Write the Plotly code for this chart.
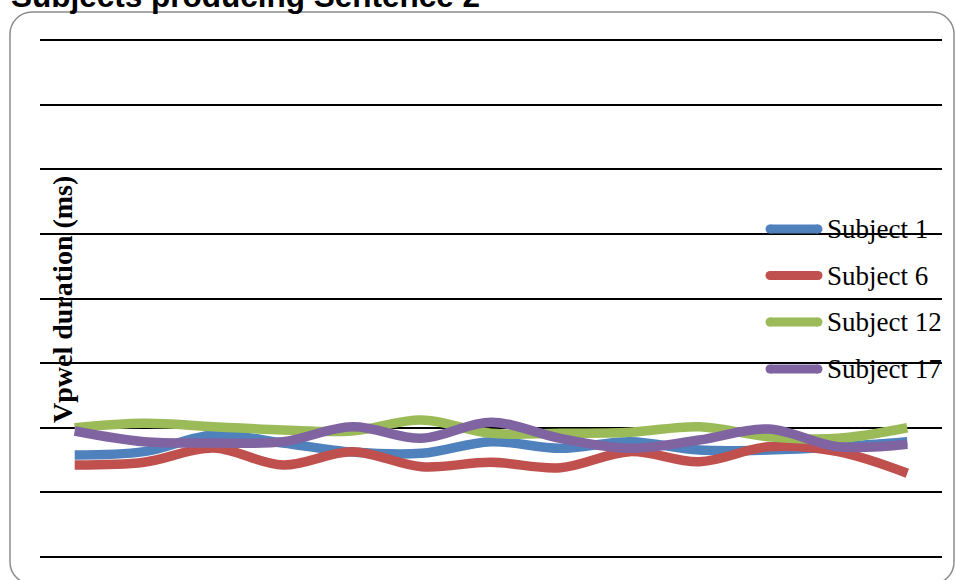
import plotly.graph_objects as go

# ---- data ----
categories = list(range(1, 14))
series_names = ["Subject 1", "Subject 6", "Subject 12", "Subject 17"]
subject_1 = [78.9, 81.5, 94.4, 88.2, 81.2, 80.2, 89.2, 84.1, 89.2, 82.8, 82.8, 85.3, 89.2]
subject_6 = [71.2, 73.3, 84.3, 71.2, 81.5, 69.9, 73.3, 69.1, 81.5, 73.7, 85.3, 81.5, 64.8]
subject_12 = [100.0, 103.4, 100.8, 98.3, 97.5, 106.0, 95.7, 95.7, 96.5, 100.8, 93.1, 91.8, 100.0]
subject_17 = [97.5, 89.2, 88.2, 89.2, 100.8, 91.8, 104.2, 91.8, 84.1, 90.5, 99.0, 85.3, 87.2]
series_values = [subject_1, subject_6, subject_12, subject_17]
colors = ["#4F81BD", "#C0504D", "#9BBB59", "#8064A2"]

title_text = "Subjects producing Sentence 2"
y_title = "Vpwel duration (ms)"

# ---- layout geometry (pixels) ----
W, H = 956, 580
L, R = 40, 942
T, B = 37, 560            # plot area (gridlines 0..400 at 557..40)
PPU = (557 - 40) / 400.0  # pixels per unit
y_lo = -(B - 557) / PPU
y_hi = 400 + (40 - T) / PPU


def px(x):
    return (x - L) / (R - L)


def py(y):
    return (B - y) / (B - T)


fig = go.Figure()
for name, vals, col in zip(series_names, series_values, colors):
    fig.add_trace(go.Scatter(
        x=categories, y=vals, mode="lines", name=name,
        line=dict(color=col, width=9.5, shape="spline", smoothing=1.0),
        showlegend=False, hoverinfo="skip",
    ))

# custom legend swatches on an overlay axis in pixel units
leg_y = [229, 275.5, 322, 369]
for i, (name, col) in enumerate(zip(series_names, colors)):
    fig.add_trace(go.Scatter(
        x=[770, 818], y=[leg_y[i], leg_y[i]], xaxis="x2", yaxis="y2",
        mode="lines+markers", line=dict(color=col, width=9),
        marker=dict(color=col, size=9, line=dict(width=0)),
        showlegend=False, hoverinfo="skip",
    ))

annotations = []
for i, name in enumerate(series_names):
    annotations.append(dict(
        x=px(825), y=py(leg_y[i]), xref="paper", yref="paper",
        xanchor="left", yanchor="middle", text=name, showarrow=False,
        font=dict(family="Liberation Serif", size=27, color="#000"),
    ))
annotations.append(dict(
    x=px(62), y=py(300), xref="paper", yref="paper", xanchor="center",
    yanchor="middle", text="<b>" + y_title + "</b>", textangle=-90,
    showarrow=False, font=dict(family="Liberation Serif", size=28, color="#000"),
))
annotations.append(dict(
    x=px(9), y=py(-4), xref="paper", yref="paper", xanchor="left",
    yanchor="middle", text="<b>" + title_text + "</b>", showarrow=False,
    font=dict(family="Liberation Sans", size=31.5, color="#000"),
))

# rounded border box
bx0, by0, bx1, by1, r = 10, 12, 954, 584, 22
k = 0.55 * r
path = (
    f"M {px(bx0)} {py(by0 + r)} "
    f"C {px(bx0)} {py(by0 + r - k)} {px(bx0 + r - k)} {py(by0)} {px(bx0 + r)} {py(by0)} "
    f"L {px(bx1 - r)} {py(by0)} "
    f"C {px(bx1 - r + k)} {py(by0)} {px(bx1)} {py(by0 + r - k)} {px(bx1)} {py(by0 + r)} "
    f"L {px(bx1)} {py(by1 - r)} "
    f"C {px(bx1)} {py(by1 - r + k)} {px(bx1 - r + k)} {py(by1)} {px(bx1 - r)} {py(by1)} "
    f"L {px(bx0 + r)} {py(by1)} "
    f"C {px(bx0 + r - k)} {py(by1)} {px(bx0)} {py(by1 - r + k)} {px(bx0)} {py(by1 - r)} Z"
)

fig.update_layout(
    width=W, height=H,
    margin=dict(l=L, r=W - R, t=T, b=H - B, pad=0),
    paper_bgcolor="white", plot_bgcolor="white",
    xaxis=dict(range=[0.5, 13.5], showgrid=False, showticklabels=False,
               ticks="", zeroline=False, showline=False, fixedrange=True),
    yaxis=dict(range=[y_lo, y_hi], dtick=50, tick0=0, showgrid=True,
               gridcolor="#000", gridwidth=2, showticklabels=False, ticks="",
               zeroline=False, showline=False, fixedrange=True),
    xaxis2=dict(range=[L, R], overlaying="x", visible=False, fixedrange=True),
    yaxis2=dict(range=[B, T], overlaying="y", visible=False, fixedrange=True),
    annotations=annotations,
    shapes=[dict(type="path", path=path, xref="paper", yref="paper",
                 line=dict(color="#8C8C8C", width=1.5), layer="below")],
    showlegend=False,
)

fig.write_html(
    "out.html",
    config={"displayModeBar": False},
    post_script="document.body.style.margin='0';document.body.style.padding='0';"
                "document.body.style.overflow='hidden';",
)
